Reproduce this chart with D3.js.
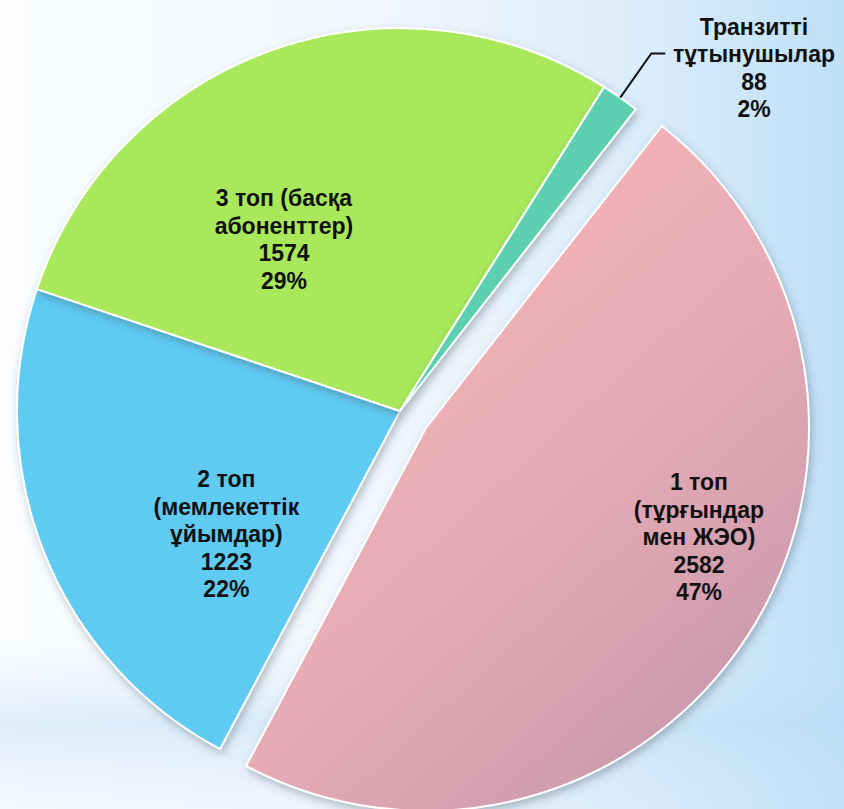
<!DOCTYPE html>
<meta charset="utf-8">
<style>
    body { margin: 0; }
    svg { display: block; }
    text.lbl {
        font-family: "Liberation Sans", Arial, sans-serif;
        font-weight: bold;
        font-size: 23px;
        fill: #111;
    }
</style>
<script src="https://d3js.org/d3.v7.min.js"></script>
<body>
<script>
    // data
    var categories = ["1 топ (тұрғындар мен ЖЭО)", "2 топ (мемлекеттік ұйымдар)", "3 топ (басқа абоненттер)", "Транзитті тұтынушылар"];
    var values = [2582, 1223, 1574, 88];
    var labelLines = [
        ["1 топ", "(тұрғындар", "мен ЖЭО)"],
        ["2 топ", "(мемлекеттік", "ұйымдар)"],
        ["3 топ (басқа", "абоненттер)"],
        ["Транзитті", "тұтынушылар"]
    ];
    var colors = ["url(#pinkGrad)", "#5ecbf2", "#a8e85a", "#5dcfb1"];

    // layout: label block centre as [angle in degrees, distance from centre]
    var labelPlace = [[111.8, 294], [234.6, 213], [325.9, 207], [45.9, 493]];
    var explode = [31, 0, 0, 0];

    var width = 844, height = 809;
    var cx = 400, cy = 411, radius = 383;
    var startDeg = 38;
    var lineH = 27.5;

    var svg = d3.select("body").append("svg")
        .attr("width", width)
        .attr("height", height);

    var defs = svg.append("defs");

    var bg = defs.append("linearGradient").attr("id", "bgGrad")
        .attr("x1", 0).attr("y1", 0).attr("x2", 1).attr("y2", 0);
    bg.append("stop").attr("offset", 0).attr("stop-color", "#fbfdff");
    bg.append("stop").attr("offset", 0.45).attr("stop-color", "#f1f7fd");
    bg.append("stop").attr("offset", 0.75).attr("stop-color", "#dcedfa");
    bg.append("stop").attr("offset", 1).attr("stop-color", "#bfdff7");

    var band = defs.append("linearGradient").attr("id", "bandGrad")
        .attr("x1", 0).attr("y1", 0).attr("x2", 0).attr("y2", 1);
    band.append("stop").attr("offset", 0).attr("stop-color", "#cfe6f8").attr("stop-opacity", 0);
    band.append("stop").attr("offset", 0.5).attr("stop-color", "#b9dbf5").attr("stop-opacity", 0.45);
    band.append("stop").attr("offset", 1).attr("stop-color", "#cfe6f8").attr("stop-opacity", 0.15);

    // coordinates relative to the exploded slice's origin
    var pink = defs.append("linearGradient").attr("id", "pinkGrad")
        .attr("gradientUnits", "userSpaceOnUse")
        .attr("x1", 0).attr("y1", -120).attr("x2", 360).attr("y2", 280);
    pink.append("stop").attr("offset", 0).attr("stop-color", "#f0b1b6");
    pink.append("stop").attr("offset", 0.45).attr("stop-color", "#e4aab4");
    pink.append("stop").attr("offset", 1).attr("stop-color", "#c797ac");

    var shadow = defs.append("filter").attr("id", "shadow")
        .attr("x", "-20%").attr("y", "-20%").attr("width", "140%").attr("height", "140%");
    shadow.append("feDropShadow")
        .attr("dx", 2).attr("dy", 4).attr("stdDeviation", 4)
        .attr("flood-color", "#3a4a5a").attr("flood-opacity", 0.35);

    svg.append("rect").attr("width", width).attr("height", height).attr("fill", "url(#bgGrad)");
    svg.append("rect").attr("y", 640).attr("width", width).attr("height", height - 640).attr("fill", "url(#bandGrad)");

    var pie = d3.pie().sort(null)
        .startAngle(startDeg * Math.PI / 180)
        .endAngle(startDeg * Math.PI / 180 + 2 * Math.PI);
    var arcs = pie(values);
    var total = d3.sum(values);

    var arc = d3.arc().innerRadius(0).outerRadius(radius);

    var g = svg.append("g").attr("transform", "translate(" + cx + "," + cy + ")");

    function offset(d, i) {
        var mid = (d.startAngle + d.endAngle) / 2;
        return d3.pointRadial(mid, explode[i]);
    }

    g.selectAll("path.slice")
        .data(arcs)
        .enter()
        .append("path")
        .attr("class", "slice")
        .attr("d", arc)
        .attr("transform", function(d, i) { var o = offset(d, i); return "translate(" + o[0] + "," + o[1] + ")"; })
        .attr("fill", function(d, i) { return colors[i]; })
        .attr("stroke", "#fff")
        .attr("stroke-width", 2)
        .attr("stroke-linejoin", "round")
        .attr("filter", "url(#shadow)");

    // leader line for the small slice
    var small = arcs[3];
    var sMid = (small.startAngle + small.endAngle) / 2;
    var p0 = d3.pointRadial(sMid, radius);
    var p1 = d3.pointRadial(sMid, radius + 54);
    g.append("path")
        .attr("d", d3.line()([p0, p1, [p1[0] + 14, p1[1]]]))
        .attr("fill", "none")
        .attr("stroke", "#111")
        .attr("stroke-width", 2);

    // labels
    arcs.forEach(function(d, i) {
        var lines = labelLines[i].concat([String(values[i]), Math.round(values[i] / total * 100) + "%"]);
        var o = offset(d, i);
        var p = d3.pointRadial(labelPlace[i][0] * Math.PI / 180, labelPlace[i][1]);
        var x = p[0] + o[0], y = p[1] + o[1];
        var y0 = y - (lines.length - 1) * lineH / 2;
        var t = g.append("text").attr("class", "lbl").attr("text-anchor", "middle");
        lines.forEach(function(s, k) {
            t.append("tspan")
                .attr("x", x)
                .attr("y", y0 + k * lineH)
                .attr("dy", "0.35em")
                .text(s);
        });
    });
</script>
